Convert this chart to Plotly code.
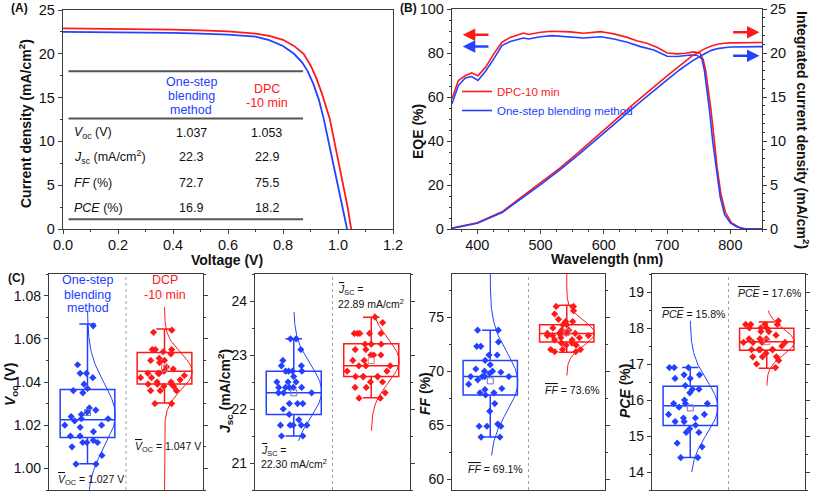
import numpy as np
import plotly.graph_objects as go

W, H = 813, 492
RED = 'rgb(255,25,25)'
BLUE = 'rgb(35,65,255)'
AXC = '#3c3c3c'
FONT = 'Liberation Sans, Arial, sans-serif'

# ---------------- Panel A: J-V data ----------------
v_blue = [0, 0.1, 0.2, 0.3, 0.4, 0.5, 0.6, 0.7, 0.75, 0.8, 0.84, 0.87, 0.89, 0.91, 0.93, 0.948, 0.965, 0.984, 1.0, 1.018, 1.033]
j_blue = [22.5, 22.48, 22.45, 22.42, 22.38, 22.3, 22.2, 21.95, 21.55, 20.9, 20.0, 19.0, 18.0, 16.6, 14.8, 12.6, 10.0, 7.1, 4.8, 2.3, 0]
v_red = [0, 0.1, 0.2, 0.3, 0.4, 0.5, 0.6, 0.7, 0.75, 0.8, 0.84, 0.875, 0.9, 0.92, 0.94, 0.97, 0.99, 1.006, 1.02, 1.035, 1.048]
j_red = [22.9, 22.88, 22.85, 22.8, 22.75, 22.68, 22.55, 22.3, 22.05, 21.6, 20.9, 20.0, 18.7, 17.3, 15.6, 12.6, 9.6, 7.1, 4.9, 2.5, 0]

table_labels = ['<i>V</i><sub>oc</sub> (V)', '<i>J</i><sub>sc</sub> (mA/cm<sup>2</sup>)', '<i>FF</i> (%)', '<i>PCE</i> (%)']
table_blue = ['1.037', '22.3', '72.7', '16.9']
table_red = ['1.053', '22.9', '75.5', '18.2']
table_row_j = [11.0, 8.2, 5.3, 2.4]
table_rule_j = [18.0, 12.6, 1.1]
header_blue = ['One-step', 'blending', 'method']
header_blue_j = [16.8, 15.15, 13.55]
header_red = ['DPC', '-10 min']
header_red_j = [15.95, 14.35]

# ---------------- Panel B: EQE data ----------------
wl_eqe_red = [360, 370, 381, 391, 401, 413, 426, 439, 452, 473, 481, 500, 518, 547, 568, 595, 601, 616, 637, 652,
              668, 684, 700, 716, 729, 742, 752, 757, 761, 765, 769, 774, 779, 785, 792, 802, 815, 825, 850]
eqe_red = [59.2, 67.5, 69.7, 71.0, 69.7, 73.5, 79.6, 84.9, 87.1, 89.1, 88.4, 89.4, 89.9, 89.6, 89.0, 89.7, 89.4, 88.7, 87.1, 85.6,
           84.4, 82.6, 80.0, 79.6, 79.9, 80.5, 79.9, 77.0, 72.0, 64.0, 55.0, 42.0, 28.0, 16.0, 7.7, 2.7, 0.6, 0.1, 0.0]
wl_eqe_blue = [360, 370, 381, 391, 401, 413, 426, 439, 452, 473, 481, 500, 518, 547, 568, 595, 616, 637, 658, 679,
               700, 716, 737, 747, 755, 759, 763, 767, 772, 778, 784, 791, 800, 810, 820, 850]
eqe_blue = [56.9, 65.2, 68.7, 69.3, 67.5, 71.7, 77.3, 83.4, 85.2, 86.8, 86.4, 87.4, 87.9, 87.4, 86.8, 87.4, 86.4, 84.9, 82.9, 81.4,
            78.5, 78.4, 79.1, 79.0, 77.3, 72.0, 64.0, 54.0, 40.0, 26.0, 14.5, 6.5, 2.8, 1.0, 0.2, 0.0]
wl_int = [360, 400, 440, 470, 500, 530, 560, 600, 650, 700, 720, 740, 750, 760, 770, 780, 790, 800, 850]
jint_red = [0.1, 0.7, 2.0, 3.6, 5.2, 6.9, 8.7, 11.2, 14.4, 17.4, 18.6, 19.7, 20.1, 20.5, 20.8, 21.0, 21.1, 21.15, 21.2]
jint_blue = [0.08, 0.65, 1.9, 3.45, 5.05, 6.7, 8.45, 10.9, 14.0, 16.95, 18.1, 19.1, 19.55, 19.95, 20.3, 20.5, 20.6, 20.68, 20.72]

# ---------------- Panel C: statistics data ----------------
voc_blue = [1.066, 1.048, 1.044, 1.044, 1.042, 1.039, 1.037, 1.036, 1.035, 1.028, 1.027, 1.026, 1.025, 1.024, 1.023, 1.023,
            1.022, 1.020, 1.020, 1.019, 1.017, 1.015, 1.015, 1.013, 1.012, 1.012, 1.012, 1.010, 1.006, 1.002, 1.002]
voc_red = [1.064, 1.063, 1.055, 1.055, 1.055, 1.054, 1.053, 1.051, 1.050, 1.050, 1.049, 1.047, 1.046, 1.045, 1.044, 1.044, 1.044,
           1.043, 1.042, 1.042, 1.041, 1.040, 1.040, 1.039, 1.039, 1.039, 1.038, 1.038, 1.036, 1.036, 1.036, 1.030, 1.030]
jsc_blue = [23.3, 23.3, 23.1, 22.9, 22.8, 22.8, 22.7, 22.7, 22.7, 22.7, 22.6, 22.5, 22.5, 22.5, 22.4, 22.4, 22.4, 22.4, 22.4,
            22.3, 22.3, 22.3, 22.1, 22.1, 22.1, 22.0, 21.9, 21.8, 21.7, 21.7, 21.7, 21.7, 21.7, 21.5, 21.5]
jsc_red = [23.7, 23.6, 23.4, 23.4, 23.4, 23.4, 23.4, 23.2, 23.2, 23.2, 23.1, 23.1, 23.0, 23.0, 23.0, 22.9, 22.9, 22.8, 22.8,
           22.8, 22.7, 22.7, 22.6, 22.6, 22.6, 22.6, 22.6, 22.5, 22.5, 22.4, 22.4, 22.3, 22.2, 22.2]
ff_blue = [73.8, 73.8, 72.7, 72.3, 72.3, 71.5, 71.5, 71.0, 70.6, 70.2, 70.0, 70.0, 69.9, 69.8, 69.5, 69.5, 69.5, 69.5, 69.2,
           68.8, 68.4, 68.3, 68.0, 68.0, 67.8, 67.0, 66.3, 65.1, 64.9, 64.9, 64.9, 63.9, 63.9]
ff_red = [76.0, 76.0, 75.6, 75.3, 74.8, 74.6, 74.6, 74.3, 74.3, 74.0, 73.8, 73.8, 73.5, 73.5, 73.5, 73.5, 73.5, 73.3, 73.3,
          73.3, 73.1, 73.1, 72.9, 72.9, 72.6, 72.6, 72.4, 72.4, 72.0, 72.0, 72.0, 71.8, 71.8]
pce_blue = [16.9, 16.9, 16.9, 16.7, 16.7, 16.6, 16.6, 16.4, 16.3, 16.3, 16.2, 16.0, 15.9, 15.9, 15.9, 15.8, 15.6, 15.6, 15.5,
            15.5, 15.4, 15.4, 15.3, 15.2, 15.1, 15.1, 14.8, 14.7, 14.4, 14.4]
pce_red = [18.2, 18.1, 18.1, 18.1, 18.1, 18.0, 18.0, 18.0, 17.9, 17.9, 17.8, 17.7, 17.7, 17.7, 17.6, 17.6, 17.6, 17.6, 17.5,
           17.4, 17.4, 17.4, 17.4, 17.4, 17.3, 17.2, 17.2, 17.2, 17.1, 17.0, 16.9]

# box statistics: [lower whisker, q1, median, q3, upper whisker, mean]
voc_box_blue = [1.0022, 1.0143, 1.0225, 1.0365, 1.0668, 1.0259]
voc_box_red = [1.0303, 1.0391, 1.0450, 1.0536, 1.0645, 1.0464]
jsc_box_blue = [21.5, 21.9, 22.3, 22.7, 23.3, 22.3]
jsc_box_red = [22.21, 22.6, 22.8, 23.21, 23.7, 22.9]
ff_box_blue = [63.9, 67.8, 69.5, 70.98, 73.8, 69.1]
ff_box_red = [71.75, 72.7, 73.5, 74.3, 76.1, 73.6]
pce_box_blue = [14.4, 15.29, 15.84, 16.38, 16.9, 15.78]
pce_box_red = [16.88, 17.38, 17.62, 17.99, 18.17, 17.62]

# vertical extent of the fitted normal curves
voc_curve_blue = [0.985, 1.073]
voc_curve_red = [0.985, 1.0746]
jsc_curve_blue = [21.41, 23.8]
jsc_curve_red = [21.6, 23.77]
ff_curve_blue = [62.2, 80.0]
ff_curve_red = [69.6, 80.0]
pce_curve_blue = [14.0, 18.2]
pce_curve_red = [16.4, 18.48]

group_pos = [0, 1]

# ---------------- helpers ----------------
def dom_x(a, b):
    return [a / W, b / W]

def dom_y(top, bottom):
    return [1 - bottom / H, 1 - top / H]

def px(x):
    return x / W

def py(y):
    return 1 - y / H

fig = go.Figure()

# Panel A traces
fig.add_trace(go.Scatter(x=v_red, y=j_red, mode='lines', line=dict(color=RED, width=1.8),
                         xaxis='x', yaxis='y', showlegend=False))
fig.add_trace(go.Scatter(x=v_blue, y=j_blue, mode='lines', line=dict(color=BLUE, width=1.8),
                         xaxis='x', yaxis='y', showlegend=False))

# Panel B traces
fig.add_trace(go.Scatter(x=wl_eqe_red, y=eqe_red, mode='lines', line=dict(color=RED, width=1.6),
                         xaxis='x2', yaxis='y2', name='<span style="color:rgb(255,25,25)">DPC-10 min</span>', showlegend=True))
fig.add_trace(go.Scatter(x=wl_eqe_blue, y=eqe_blue, mode='lines', line=dict(color=BLUE, width=1.6),
                         xaxis='x2', yaxis='y2', name='<span style="color:rgb(35,65,255)">One-step blending method</span>', showlegend=True))
fig.add_trace(go.Scatter(x=wl_int, y=jint_red, mode='lines', line=dict(color=RED, width=1.6),
                         xaxis='x2', yaxis='y3', showlegend=False))
fig.add_trace(go.Scatter(x=wl_int, y=jint_blue, mode='lines', line=dict(color=BLUE, width=1.6),
                         xaxis='x2', yaxis='y3', showlegend=False))

# Panel C traces
C = [
    ('x3', 'y4', voc_blue, voc_red, voc_box_blue, voc_box_red, voc_curve_blue, voc_curve_red),
    ('x4', 'y5', jsc_blue, jsc_red, jsc_box_blue, jsc_box_red, jsc_curve_blue, jsc_curve_red),
    ('x5', 'y6', ff_blue, ff_red, ff_box_blue, ff_box_red, ff_curve_blue, ff_curve_red),
    ('x6', 'y7', pce_blue, pce_red, pce_box_blue, pce_box_red, pce_curve_blue, pce_curve_red),
]
BOXW = 0.71
mean_cols = ['rgba(110,110,190,1)', 'rgba(210,120,130,1)']
for xa, ya, vb, vr, bb, br, cb, cr in C:
    for pos, vals, stats, crv, col, mcol in [(group_pos[0], vb, bb, cb, BLUE, mean_cols[0]),
                                             (group_pos[1], vr, br, cr, RED, mean_cols[1])]:
        fig.add_trace(go.Box(x=[pos], lowerfence=[stats[0]], q1=[stats[1]], median=[stats[2]],
                             q3=[stats[3]], upperfence=[stats[4]], width=BOXW, whiskerwidth=0.3,
                             boxpoints=False, line=dict(color=col, width=1.5),
                             fillcolor='rgba(0,0,0,0)', xaxis=xa, yaxis=ya, showlegend=False,
                             hoverinfo='skip'))
        fig.add_trace(go.Box(y=vals, x0=pos, width=BOXW, boxpoints='all', jitter=0.9, pointpos=0,
                             line=dict(width=0, color='rgba(0,0,0,0)'), fillcolor='rgba(0,0,0,0)',
                             marker=dict(symbol='diamond', size=5.5, color=col),
                             xaxis=xa, yaxis=ya, showlegend=False))
        fig.add_trace(go.Scatter(x=[pos], y=[stats[5]], mode='markers',
                                 marker=dict(symbol='square-open', size=6, color=mcol, line=dict(width=1)),
                                 xaxis=xa, yaxis=ya, showlegend=False))
        arr = np.array(vals)
        m, s = arr.mean(), arr.std(ddof=1)
        yy = np.linspace(crv[0], crv[1], 120)
        xx = pos + 0.36 * np.exp(-0.5 * ((yy - m) / s) ** 2)
        fig.add_trace(go.Scatter(x=xx, y=yy, mode='lines', line=dict(color=col, width=1),
                                 xaxis=xa, yaxis=ya, showlegend=False, hoverinfo='skip'))

# ---------------- axes ----------------
tickfont = dict(family=FONT, size=14.5, color='#111')
tickfont_c = dict(family=FONT, size=14, color='#111')

def axis_common(**kw):
    d = dict(showgrid=False, zeroline=False, showline=True, linecolor=AXC, linewidth=1.3,
             mirror=True, ticks='outside', ticklen=4, tickwidth=1.2, tickcolor=AXC, automargin=False)
    d.update(kw)
    return d

layout = dict(
    width=W, height=H, margin=dict(l=0, r=0, t=0, b=0, pad=0, autoexpand=False),
    paper_bgcolor='white', plot_bgcolor='white',
    font=dict(family=FONT, size=13, color='#111'),
    boxmode='overlay',
    xaxis=axis_common(domain=dom_x(63, 393), anchor='y', range=[0, 1.2], dtick=0.2, tickformat='.1f',
                      tickfont=tickfont, ticklabelstandoff=-2,
                      minor=dict(dtick=0.1, ticklen=2, ticks='outside', tickcolor=AXC)),
    yaxis=axis_common(domain=dom_y(10, 229), anchor='x', range=[0, 25], dtick=5, tickfont=tickfont,
                      minor=dict(dtick=2.5, ticklen=2, ticks='outside', tickcolor=AXC)),
    xaxis2=axis_common(domain=dom_x(452, 762), anchor='y2', range=[360, 850], dtick=100, tickfont=tickfont,
                       ticklabelstandoff=-2,
                       minor=dict(dtick=25, ticklen=2, ticks='outside', tickcolor=AXC)),
    yaxis2=axis_common(domain=dom_y(9, 229), anchor='x2', range=[0, 100], dtick=20, tickfont=tickfont, mirror=False,
                       minor=dict(dtick=5, ticklen=2, ticks='outside', tickcolor=AXC)),
    yaxis3=axis_common(domain=dom_y(9, 229), anchor='x2', overlaying='y2', side='right', range=[0, 25], dtick=5,
                       tickfont=tickfont, mirror=False,
                       minor=dict(dtick=1, ticklen=2, ticks='outside', tickcolor=AXC)),
    legend=dict(x=px(457), y=py(77), xanchor='left', yanchor='top', bgcolor='rgba(0,0,0,0)',
                font=dict(family=FONT, size=11.5), itemwidth=30, tracegroupgap=0),
)

c_specs = [
    ('x3', 'y4', 49, 203, [0.99, 1.09], 0.02, 0.01, '.2f'),
    ('x4', 'y5', 255, 410, [20.5, 24.5], 1, 0.5, 'd'),
    ('x5', 'y6', 452, 605, [59, 79], 5, 2.5, 'd'),
    ('x6', 'y7', 652, 805, [13.5, 19.5], 1, 0.5, 'd'),
]
for xa, ya, a, b, rng, dt, mdt, fmt in c_specs:
    xk = 'xaxis' + xa[1:]
    yk = 'yaxis' + ya[1:]
    layout[xk] = axis_common(domain=dom_x(a, b), anchor=ya, range=[-0.5, 1.5], type='linear',
                             showticklabels=False, ticks='')
    layout[yk] = axis_common(domain=dom_y(274, 490), anchor=xa, range=rng, dtick=dt, tickformat=fmt,
                             tickfont=tickfont_c, mirror='ticks',
                             minor=dict(dtick=mdt, ticklen=2, ticks='outside', tickcolor=AXC))

fig.update_layout(**layout)

# ---------------- shapes ----------------
shapes = []
for jv in table_rule_j:
    shapes.append(dict(type='line', xref='x', yref='y', x0=0.02, x1=0.873, y0=jv, y1=jv,
                       line=dict(color='#555', width=2)))
for xa, ya, *_ in c_specs:
    shapes.append(dict(type='line', xref=xa, yref=ya + ' domain', x0=0.5, x1=0.5, y0=0, y1=1,
                       line=dict(color='#9aa0b8', width=1, dash='dot')))
fig.update_layout(shapes=shapes)

# ---------------- annotations ----------------
ann = []
def A(text, x, y, xref='paper', yref='paper', size=13, color='#111', xanchor='center', yanchor='middle',
      angle=0, bold=False):
    ann.append(dict(text=('<b>%s</b>' % text) if bold else text, x=x, y=y, xref=xref, yref=yref,
                    showarrow=False, xanchor=xanchor, yanchor=yanchor, textangle=angle,
                    borderpad=0, font=dict(family=FONT, size=size, color=color)))

A('(A)', px(10), py(8), size=12, bold=True, xanchor='left')
A('(B)', px(399), py(8), size=12, bold=True, xanchor='left')
A('(C)', px(7), py(278), size=12, bold=True, xanchor='left')

A('Current density (mA/cm<sup>2</sup>)', px(25), py(124), size=14, bold=True, angle=-90)
A('Voltage (V)', px(227), py(260), size=14, bold=True)
A('EQE (%)', px(418), py(132), size=14, bold=True, angle=-90)
A('Wavelength (nm)', px(607), py(259), size=14, bold=True)
A('Integrated current density (mA/cm<sup>2</sup>)', px(803), py(130), size=14, bold=True, angle=90)
A('<i>V</i><sub>oc</sub> (V)', px(11), py(385), size=14, bold=True, angle=-90)
A('<i>J</i><sub>sc</sub> (mA/cm<sup>2</sup>)', px(225), py(391), size=14, bold=True, angle=-90)
A('<i>FF</i> (%)', px(425), py(394), size=14, bold=True, angle=-90)
A('<i>PCE</i> (%)', px(625), py(391), size=14, bold=True, angle=-90)

for t, jv in zip(header_blue, header_blue_j):
    A(t, 0.467, jv, 'x', 'y', size=12.5, color=BLUE)
for t, jv in zip(header_red, header_red_j):
    A(t, 0.74, jv, 'x', 'y', size=12.5, color=RED)
for lab, vb, vr, jv in zip(table_labels, table_blue, table_red, table_row_j):
    A(lab, 0.036, jv, 'x', 'y', size=12.5, xanchor='left')
    A(vb, 0.467, jv, 'x', 'y', size=12.5)
    A(vr, 0.74, jv, 'x', 'y', size=12.5)

for y, col in [(88.3, RED), (83.0, BLUE)]:
    ann.append(dict(x=377, y=y, ax=420, ay=y, xref='x2', yref='y2', axref='x2', ayref='y2', text='',
                    showarrow=True, arrowhead=2, arrowsize=1, arrowwidth=2.5, arrowcolor=col))
for y, col in [(22.35, RED), (19.7, BLUE)]:
    ann.append(dict(x=846, y=y, ax=802, ay=y, xref='x2', yref='y3', axref='x2', ayref='y3', text='',
                    showarrow=True, arrowhead=2, arrowsize=1, arrowwidth=2.5, arrowcolor=col))

for t, yv in zip(['One-step', 'blending', 'method'], [1.0872, 1.0802, 1.0742]):
    A(t, 0.0, yv, 'x3', 'y4', size=12.5, color=BLUE)
for t, yv in zip(['DCP', '-10 min'], [1.0872, 1.0802]):
    A(t, 1.0, yv, 'x3', 'y4', size=12.5, color=RED)

OV = '<span style="text-decoration:overline">%s</span>'
SZ = 10.5
A(OV % '<i>V</i>' + '<sub>OC</sub> = 1.027 V', -0.39, 0.9945, 'x3', 'y4', size=SZ, xanchor='left')
A(OV % '<i>V</i>' + '<sub>OC</sub> = 1.047 V', 0.61, 1.0101, 'x3', 'y4', size=SZ, xanchor='left')
A(OV % '<i>J</i>' + '<sub>SC</sub> =', 0.56, 24.2, 'x4', 'y5', size=SZ, xanchor='left')
A('22.89 mA/cm<sup>2</sup>', 0.56, 23.96, 'x4', 'y5', size=SZ, xanchor='left')
A(OV % '<i>J</i>' + '<sub>SC</sub> =', -0.44, 21.22, 'x4', 'y5', size=SZ, xanchor='left')
A('22.30 mA/cm<sup>2</sup>', -0.44, 21.0, 'x4', 'y5', size=SZ, xanchor='left')
A(OV % '<i>FF</i>' + ' = 73.6%', 0.70, 68.3, 'x5', 'y6', size=SZ, xanchor='left')
A(OV % '<i>FF</i>' + ' = 69.1%', -0.30, 60.9, 'x5', 'y6', size=SZ, xanchor='left')
A(OV % '<i>PCE</i>' + ' = 17.6%', 0.61, 18.96, 'x6', 'y7', size=SZ, xanchor='left')
A(OV % '<i>PCE</i>' + ' = 15.8%', -0.38, 18.38, 'x6', 'y7', size=SZ, xanchor='left')

fig.update_layout(annotations=ann)
fig.write_html('out.html', config={'displayModeBar': False},
               post_script="document.body.style.margin='0px';document.body.style.overflow='hidden';")
